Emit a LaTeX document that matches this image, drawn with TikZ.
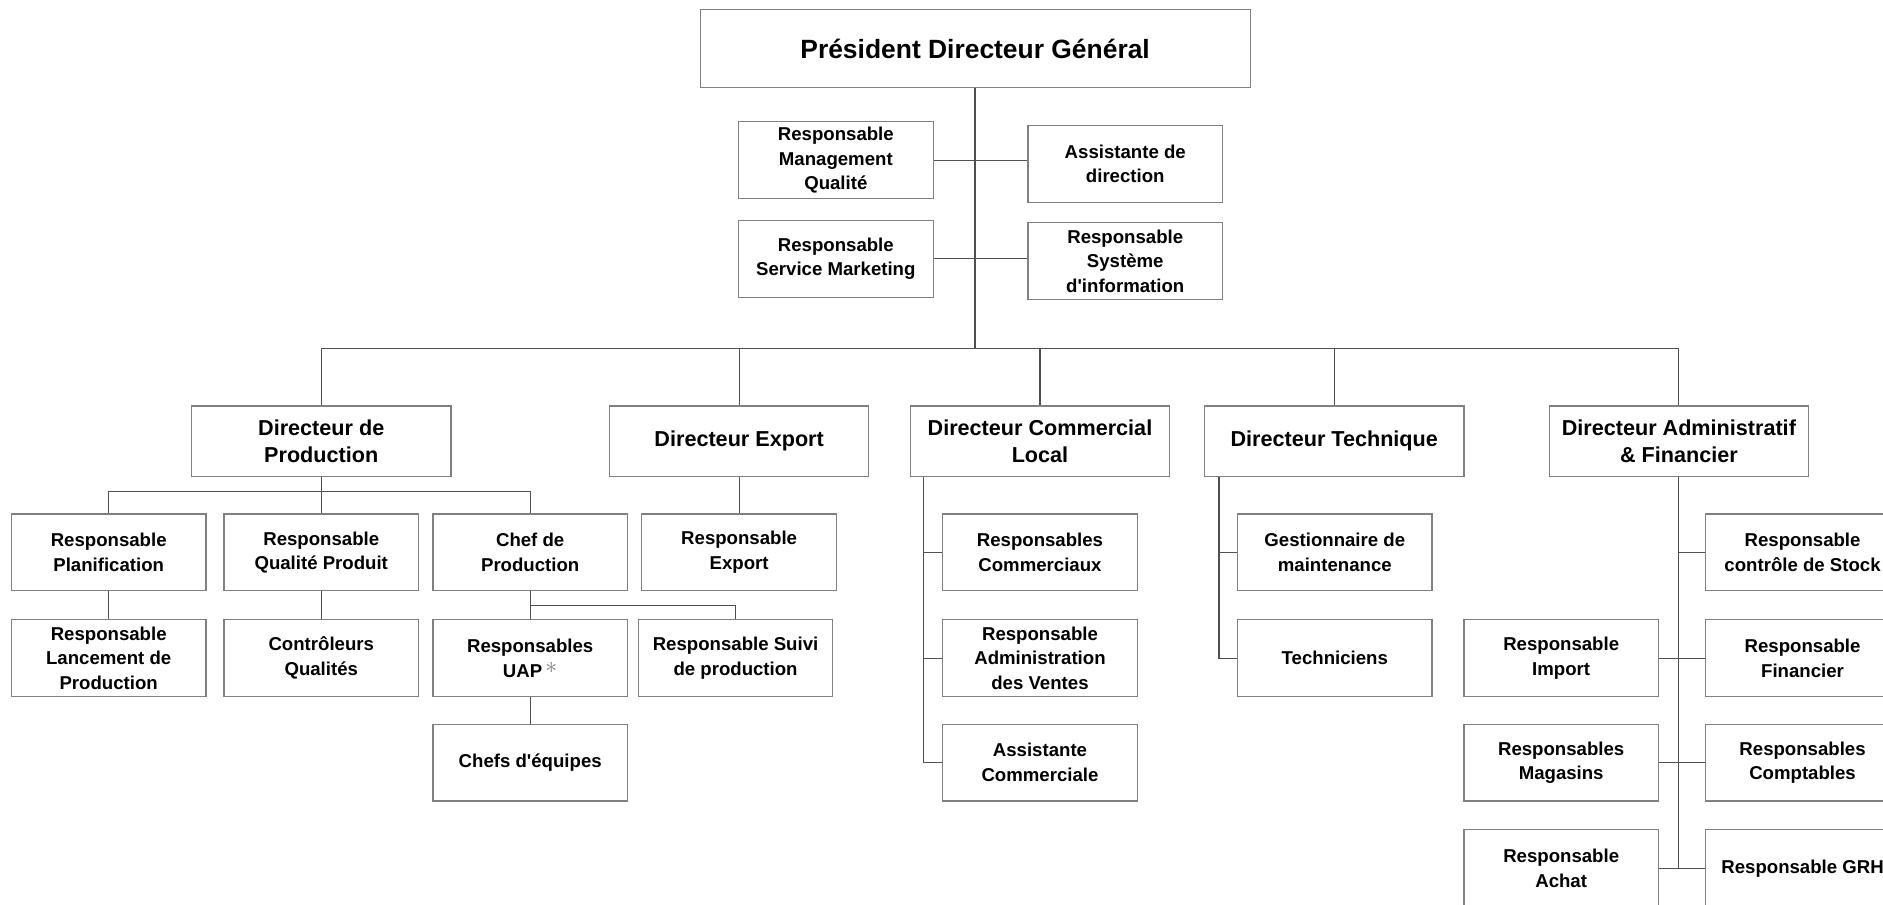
\documentclass[tikz,border=0pt]{standalone}
\usepackage{fontspec}
\setmainfont{Liberation Sans}
\newcommand\orgsmall{\bfseries\fontsize{9.3}{12.3}\selectfont}
\newcommand\orgdir{\bfseries\fontsize{10.8}{13.8}\selectfont}
\newcommand\orgtitle{\bfseries\fontsize{13.2}{16}\selectfont}
\definecolor{boxgray}{HTML}{808080}
\definecolor{linegray}{HTML}{505050}
\begin{document}
\begin{tikzpicture}[x=0.6pt,y=-0.6pt,
  box/.style={draw=boxgray, line width=0.6pt, fill=white, align=center, font=\orgsmall,
    inner sep=0pt, minimum width=97.2pt, minimum height=38.4pt},
  dirbox/.style={box, font=\orgdir, minimum width=129.6pt, minimum height=35.4pt},
  conn/.style={draw=linegray, line width=0.6pt},
  trunk/.style={draw=linegray, line width=1pt}]
\useasboundingbox (0,0) rectangle (1568,753);
\clip (0,0) rectangle (1568,753);
% top
\node[box, font=\orgtitle, minimum width=274.8pt, minimum height=39pt] (pdg) at (812,40.5) {Président Directeur Général};
\node[box] (rmq) at (696,133.5) {Responsable\\Management\\Qualité};
\node[box] (ad) at (937,136.5) {Assistante de\\direction};
\node[box] (rsm) at (696,215.5) {Responsable\\Service Marketing};
\node[box] (rsi) at (937,217.5) {Responsable\\Système\\d\textquotesingle information};
% directors
\node[dirbox] (dp) at (267.5,367.5) {Directeur de\\Production};
\node[dirbox] (de) at (615.5,367.5) {Directeur Export};
\node[dirbox] (dcl) at (866,367.5) {Directeur Commercial\\Local};
\node[dirbox] (dt) at (1111,367.5) {Directeur Technique};
\node[dirbox] (daf) at (1398,367.5) {Directeur Administratif\\\& Financier};
% production
\node[box] (rp) at (90.5,460) {Responsable\\Planification};
\node[box] (rqp) at (267.5,460) {Responsable\\Qualité Produit};
\node[box] (cp) at (441.5,460) {Chef de\\Production};
\node[box] (rlp) at (90.5,548) {Responsable\\Lancement de\\Production};
\node[box] (cq) at (267.5,548) {Contrôleurs\\Qualités};
\node[box] (ruap) at (441.5,548) {Responsables\\UAP\,\smash{\raisebox{0.35ex}{\color{gray}\fontsize{12}{12}\selectfont$\ast$}}};
\node[box] (ce) at (441.5,635) {Chefs d\textquotesingle équipes};
\node[box] (suivi) at (612.5,548) {Responsable Suivi\\de production};
% export
\node[box] (re) at (615.5,460) {Responsable\\Export};
% commercial
\node[box] (rc) at (866,460) {Responsables\\Commerciaux};
\node[box] (rav) at (866,548) {Responsable\\Administration\\des Ventes};
\node[box] (ac) at (866,635) {Assistante\\Commerciale};
% technique
\node[box] (gm) at (1111.5,460) {Gestionnaire de\\maintenance};
\node[box] (tech) at (1111.5,548) {Techniciens};
% DAF
\node[box] (rcs) at (1501,460) {Responsable\\contrôle de Stock};
\node[box] (ri) at (1300,548) {Responsable\\Import};
\node[box] (rf) at (1501,548) {Responsable\\Financier};
\node[box] (rmag) at (1300,635) {Responsables\\Magasins};
\node[box] (rcomp) at (1501,635) {Responsables\\Comptables};
\node[box] (rach) at (1300,723) {Responsable\\Achat};
\node[box] (rgrh) at (1501,723) {Responsable GRH};
% connectors
\coordinate (bus) at (812,290);
\draw[conn] (rmq.east) -- (rmq.east -| ad.west);
\draw[conn] (rsm.east) -- (rsm.east -| rsi.west);
\draw[conn] (dp.north) |- (bus) -| (daf.north);
\draw[conn] (de.north) -- (de.north |- bus);
\draw[conn] (dcl.north) -- (dcl.north |- bus);
\draw[conn] (dt.north) -- (dt.north |- bus);
\draw[trunk] (pdg.south) -- (bus);
% production
\coordinate (dpj) at (267.5,409);
\draw[conn] (dp.south) -- (dpj);
\draw[conn] (rp.north) |- (dpj) -| (cp.north);
\draw[conn] (rqp.north) -- (dpj);
\draw[conn] (rp.south) -- (rlp.north);
\draw[conn] (rqp.south) -- (cq.north);
\draw[conn] (cp.south) -- (ruap.north);
\draw[conn] (ruap.south) -- (ce.north);
\coordinate (cpj) at (441.5,504);
\draw[conn] (cpj) -| (suivi.north);
\draw[conn] (de.south) -- (re.north);
% commercial
\coordinate (dcls) at (769,397);
\draw[conn] (dcls) |- (ac.west);
\draw[conn] (rc.west) -- (rc.west -| dcls);
\draw[conn] (rav.west) -- (rav.west -| dcls);
% technique
\coordinate (dts) at (1015,397);
\draw[conn] (dts) |- (tech.west);
\draw[conn] (gm.west) -- (gm.west -| dts);
% DAF
\draw[conn] (daf.south) -- (daf.south |- rgrh.west);
\draw[conn] (rcs.west) -- (rcs.west -| daf.south);
\draw[conn] (ri.east) -- (rf.west);
\draw[conn] (rmag.east) -- (rcomp.west);
\draw[conn] (rach.east) -- (rgrh.west);
\end{tikzpicture}
\end{document}
